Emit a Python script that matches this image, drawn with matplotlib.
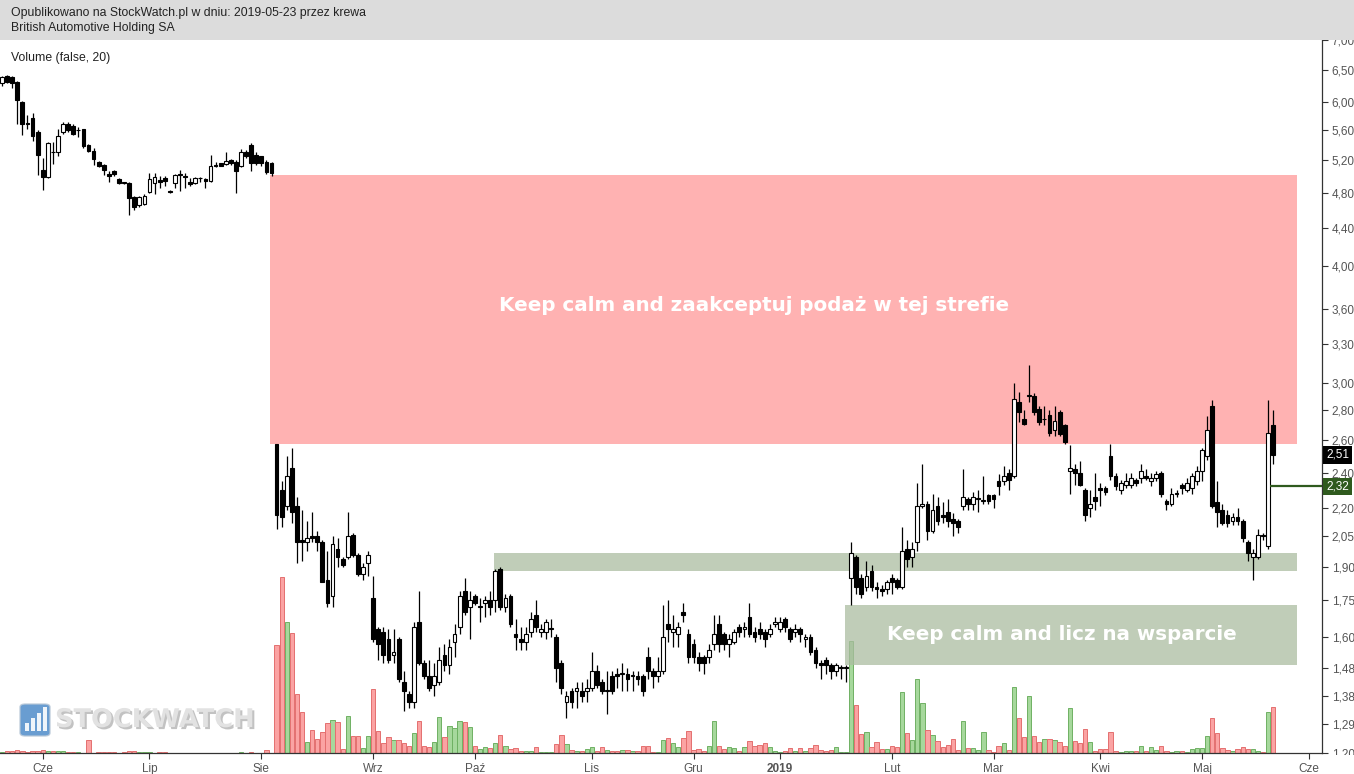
import numpy as np
import pandas as pd
import matplotlib
matplotlib.use("Agg")
import matplotlib.pyplot as plt
from matplotlib.patches import Rectangle, FancyBboxPatch
from matplotlib import transforms, font_manager
import matplotlib.patheffects as pe

# ---------------- data ----------------
start_date = "2018-05-21"
holidays = ["2018-05-31", "2018-08-15", "2018-11-01", "2018-11-12", "2018-12-24",
            "2018-12-25", "2018-12-26", "2018-12-31", "2019-01-01", "2019-04-19",
            "2019-04-22", "2019-05-01", "2019-05-03", "2019-06-20"]

opens = [6.29,6.40,6.38,6.31,6.00,5.70,5.77,5.58,5.07,4.99, 5.31,5.31,5.58,5.68,5.66,5.60,5.61,5.40,5.32,5.18,
         5.14,5.03,5.06,4.96,4.93,4.91,4.75,4.65,4.67,4.81, 4.91,4.95,4.98,4.82,4.92,5.03,5.00,4.93,4.91,4.97,
         4.96,4.94,5.14,5.16,5.15,5.20,5.18,5.13,5.31,5.40, 5.27,5.25,5.18,5.17,
         2.58,2.30,2.21,2.43,2.21,2.03,2.02,2.05,2.05,2.02, 1.84,1.77,1.99,1.94,1.95,2.06,1.96,1.87,1.92,1.76,
         1.63,1.62,1.59,1.53,1.59,1.43,1.39,1.36,1.66,1.50, 1.45,1.42,1.43,1.53,1.49,1.58,1.64,1.79,1.72,1.77,
         1.72,1.74,1.75,1.75,1.89,1.72,1.77,1.61,1.59,1.58, 1.62,1.69,1.62,1.62,1.63,1.60,1.50,1.36,1.40,1.40,
         1.40,1.40,1.41,1.47,1.43,1.40,1.45,1.46,1.46,1.46, 1.45,1.45,1.45,1.52,1.47,1.45,1.47,1.65,1.62,1.61,
         1.70,1.61,1.57,1.52,1.52,1.52,1.57,1.65,1.61,1.57, 1.58,1.64,1.63,1.68,1.62,1.63,1.62,1.61,1.65,1.63,
         1.67,1.63,1.62,1.63,1.59,1.60,1.55,1.50,1.51,1.49, 1.47,1.48,1.48,1.85,1.95,1.85,1.81,1.88,1.81,1.80,
         1.80,1.85,1.84,1.81,1.99,1.95,2.02,2.21,2.22,2.08, 2.21,2.16,2.18,2.14,2.13,2.21,2.25,2.22,2.25,2.24,
         2.27,2.27,2.35,2.35,2.40,2.38,2.86,2.74,2.90,2.90, 2.81,2.74,2.77,2.67,2.79,2.70,2.41,2.42,2.40,2.30,
         2.20,2.26,2.31,2.31,2.50,2.38,2.30,2.33,2.33,2.36, 2.37,2.38,2.35,2.37,2.40,2.24,2.22,2.28,2.33,2.30,
         2.31,2.35,2.41,2.50,2.83,2.23,2.19,2.16,2.13,2.15, 2.13,2.02,1.95,1.95,2.06,2.00,2.70]
highs = [6.40,6.42,6.40,6.33,6.02,5.82,5.85,5.60,5.23,5.44, 5.44,5.62,5.72,5.71,5.68,5.64,5.62,5.41,5.36,5.19,
         5.15,5.06,5.07,4.97,4.93,4.93,4.76,4.76,4.78,5.04, 5.04,5.00,5.00,4.83,5.03,5.08,5.04,4.98,4.99,4.99,
         4.97,5.27,5.18,5.17,5.30,5.22,5.20,5.35,5.33,5.42, 5.30,5.26,5.20,5.18,
         2.58,2.35,2.50,2.55,2.26,2.19,2.13,2.18,2.08,2.03, 1.98,2.05,2.04,1.95,2.18,2.07,1.97,1.92,1.98,1.86,
         1.64,1.64,1.63,1.63,1.60,1.47,1.40,1.66,1.79,1.51, 1.51,1.50,1.56,1.57,1.59,1.65,1.79,1.85,1.79,1.78,
         1.76,1.77,1.79,1.89,1.90,1.78,1.78,1.67,1.64,1.64, 1.70,1.75,1.65,1.67,1.67,1.61,1.51,1.40,1.41,1.43,
         1.43,1.44,1.54,1.49,1.44,1.47,1.47,1.48,1.50,1.48, 1.47,1.47,1.46,1.56,1.48,1.52,1.73,1.75,1.69,1.66,
         1.74,1.63,1.59,1.54,1.53,1.57,1.69,1.69,1.62,1.61, 1.63,1.65,1.66,1.74,1.64,1.66,1.63,1.65,1.68,1.68,
         1.68,1.64,1.65,1.64,1.61,1.61,1.56,1.51,1.52,1.50, 1.50,1.49,1.49,2.02,1.96,1.87,1.93,1.91,1.83,1.82,
         1.84,1.87,1.85,2.10,2.03,2.02,2.34,2.45,2.24,2.28, 2.26,2.23,2.25,2.17,2.14,2.42,2.26,2.29,2.30,2.38,
         2.28,2.28,2.39,2.44,2.42,3.00,2.93,2.80,3.13,2.92, 2.83,2.83,2.80,2.83,2.80,2.71,2.57,2.45,2.47,2.31,
         2.30,2.40,2.34,2.32,2.58,2.40,2.36,2.40,2.40,2.37, 2.45,2.42,2.40,2.41,2.41,2.25,2.31,2.30,2.34,2.37,
         2.40,2.44,2.55,2.76,2.87,2.35,2.22,2.19,2.17,2.20, 2.14,2.03,1.99,2.09,2.07,2.87,2.80]
lows = [6.25,6.30,6.22,5.68,5.53,5.62,5.45,5.01,4.83,4.97, 5.15,5.25,5.55,5.57,5.54,5.50,5.36,5.30,5.14,5.11,
        5.01,4.93,5.00,4.90,4.90,4.54,4.60,4.63,4.66,4.79, 4.78,4.85,4.88,4.80,4.85,4.82,4.85,4.88,4.90,4.93,
        4.85,4.93,5.11,5.12,5.14,5.14,4.80,5.11,5.23,5.06, 5.14,5.13,5.02,5.00,
        2.09,2.10,2.19,2.12,1.92,1.93,1.98,2.02,1.98,1.83, 1.72,1.72,1.90,1.90,1.94,1.95,1.86,1.84,1.86,1.58,
        1.51,1.50,1.50,1.50,1.43,1.33,1.34,1.34,1.49,1.44, 1.40,1.38,1.42,1.47,1.46,1.52,1.61,1.69,1.59,1.73,
        1.66,1.68,1.69,1.70,1.71,1.70,1.64,1.55,1.55,1.55, 1.60,1.62,1.60,1.59,1.60,1.43,1.39,1.31,1.34,1.34,
        1.36,1.36,1.40,1.41,1.39,1.32,1.39,1.41,1.40,1.40, 1.40,1.42,1.38,1.44,1.41,1.43,1.46,1.58,1.56,1.56,
        1.66,1.50,1.50,1.47,1.46,1.50,1.55,1.54,1.55,1.52, 1.57,1.60,1.60,1.60,1.58,1.59,1.56,1.60,1.64,1.62,
        1.62,1.58,1.60,1.58,1.56,1.53,1.48,1.44,1.46,1.44, 1.45,1.44,1.43,1.73,1.78,1.76,1.79,1.79,1.76,1.77,
        1.78,1.78,1.80,1.80,1.90,1.90,1.98,2.20,2.03,2.07, 2.11,2.12,2.10,2.05,2.07,2.19,2.19,2.19,2.18,2.22,
        2.22,2.20,2.27,2.33,2.30,2.37,2.72,2.70,2.86,2.77, 2.70,2.70,2.63,2.63,2.63,2.58,2.28,2.33,2.32,2.13,
        2.15,2.19,2.21,2.27,2.36,2.30,2.28,2.31,2.31,2.32, 2.34,2.36,2.32,2.35,2.26,2.19,2.21,2.26,2.28,2.29,
        2.28,2.33,2.35,2.48,2.20,2.10,2.11,2.10,2.11,2.11, 2.02,1.93,1.84,1.94,2.03,1.99,2.45]
closes = [6.38,6.31,6.30,6.03,5.68,5.68,5.52,5.27,4.99,5.42, 5.30,5.52,5.68,5.60,5.55,5.60,5.38,5.32,5.22,5.13,
          5.07,5.00,5.03,4.91,4.91,4.73,4.63,4.75,4.76,4.96, 4.99,4.93,4.94,4.81,5.01,5.01,4.99,4.90,4.98,4.97,
          4.94,5.13,5.13,5.13,5.19,5.16,5.06,5.31,5.25,5.16, 5.16,5.16,5.05,5.04,
          2.16,2.15,2.38,2.18,2.02,2.02,2.04,2.04,2.02,1.83, 1.74,2.01,1.95,1.91,2.05,1.96,1.87,1.90,1.96,1.59,
          1.57,1.53,1.51,1.54,1.44,1.40,1.36,1.64,1.50,1.45, 1.41,1.45,1.51,1.49,1.56,1.61,1.77,1.70,1.75,1.74,
          1.725,1.75,1.72,1.88,1.72,1.76,1.65,1.60,1.58,1.61, 1.67,1.64,1.63,1.66,1.63,1.48,1.41,1.38,1.36,1.41,
          1.38,1.41,1.47,1.42,1.40,1.40,1.40,1.45,1.46,1.44, 1.45,1.44,1.40,1.47,1.45,1.47,1.60,1.63,1.63,1.64,
          1.69,1.52,1.52,1.50,1.50,1.55,1.61,1.57,1.57,1.59, 1.62,1.62,1.64,1.61,1.60,1.61,1.59,1.63,1.66,1.66,
          1.64,1.59,1.63,1.61,1.60,1.54,1.50,1.49,1.49,1.47, 1.49,1.485,1.485,1.97,1.81,1.78,1.86,1.81,1.80,1.79,
          1.83,1.83,1.81,1.98,1.94,1.99,2.21,2.22,2.08,2.19, 2.13,2.15,2.13,2.12,2.10,2.26,2.22,2.26,2.25,2.245,
          2.24,2.25,2.32,2.38,2.36,2.88,2.79,2.71,2.91,2.79, 2.72,2.74,2.65,2.73,2.64,2.59,2.43,2.40,2.33,2.16,
          2.22,2.24,2.30,2.29,2.38,2.32,2.34,2.35,2.37,2.34, 2.41,2.37,2.37,2.39,2.28,2.22,2.28,2.285,2.31,2.34,
          2.38,2.41,2.54,2.67,2.21,2.18,2.12,2.12,2.15,2.13, 2.04,1.97,1.97,2.06,2.05,2.65,2.51]
volumes = [1.5,2,2.3,2.7,2.3,1.5,2,2.3,2.7,2.3, 1.7,1.7,2.5,0.7,0.7,0.7,0.5,13,0.5,1, 1,1,1,0.5,1,2.5,1.7,1.3,1.3,0.8,
           0.5,1,0.8,0.2,0.2,0.2,0.2,0.2,0.2,0.2, 0.2,0.2,0.2,0.2,0.2,0.2,0.2,1.0,0.3,1.0, 0.3,0.3,3,0.3,
           108,176,131,120,59,41,11,23,14,21, 30,33,31,4,37,17,17,5,17,64, 22,10,16,13,13,10,7,20,32,7,
           6,11,36,16,27,25,32,31,26,7, 4,6,5,10,18,7,4,5,2,2, 2,6,1,1,1,9,18,9,3,2,
           2,4,6,2,6,3,2,2,3,3, 2,2,
           7,7,1,1,13,15,10,6,15,22, 3,4,2,7,32,7,4,6,5,2, 6,12,7,8,10,6,2,1,2,5,
           2,5,2,5,8,3,2,3,6,1, 1,112,48,19,21,6,11,4,4,7, 6,61,20,13,74,50,23,18,12,6,
           8,14,3,32,5,5,3,21,3,1, 7,10,3,66,35,16,57,17,11,14, 14,13,11,7,45,12,10,24,11,2,
           4,4,21,2,1,2,2,2,7,2, 6,3,7,2,1,2,2,1,4,5, 5,17,35,20,5,3,2,4,6,4,
           4,2,1,41,46]

price_ticks = [7.00, 6.50, 6.00, 5.60, 5.20, 4.80, 4.40, 4.00, 3.60, 3.30, 3.00, 2.80, 2.60,
               2.40, 2.20, 2.05, 1.90, 1.75, 1.60, 1.48, 1.38, 1.29, 1.20]
month_names = {1: "Sty", 2: "Lut", 3: "Mar", 4: "Kwi", 5: "Maj", 6: "Cze",
               7: "Lip", 8: "Sie", 9: "Wrz", 10: "Paź", 11: "Lis", 12: "Gru"}
supply_zone = (2.58, 5.01)
support_zone_upper = (1.88, 1.97)
support_zone_lower = (1.49, 1.73)
supply_text = "Keep calm and zaakceptuj podaż w tej strefie"
support_text = "Keep calm and licz na wsparcie"
last_price = 2.51
marker_price = 2.32
header_line1 = "Opublikowano na StockWatch.pl w dniu: 2019-05-23 przez krewa"
header_line2 = "British Automotive Holding SA"
indicator_label = "Volume (false, 20)"
watermark = "STOCKWATCH"

# ---------------- layout / style ----------------
W, H, DPI = 1354, 774, 100
XLIM = (-0.4, 259.6)
PRICE_LIM = (1.20, 7.00)
ZONE_RIGHT = 254.7
SUPPLY_LEFT, SUPPORT_UP_LEFT, SUPPORT_LO_LEFT = 52.7, 96.8, 165.8
UP_BODY, DOWN_BODY = "white", "black"
VOL_UP_FC, VOL_UP_EC = "#a6d89c", "#6fb163"
VOL_DN_FC, VOL_DN_EC = "#fba3a3", "#e46f6f"
PINK = (1.0, 0.60, 0.60)
SAGE = (0.67, 0.74, 0.63)
LABEL_FONT = ["Liberation Sans", "DejaVu Sans"]

o = np.array(opens); c = np.array(closes)
h = np.maximum(np.array(highs), np.maximum(o, c))
l = np.minimum(np.array(lows), np.minimum(o, c))
v = np.array(volumes, dtype=float)
n = len(o)
x = np.arange(n)
up = c >= o

days = pd.bdate_range(start_date, "2019-06-30")
days = days[~days.isin(pd.to_datetime(holidays))]
mon = days.month.values
first_idx = [i for i in range(1, len(days)) if mon[i] != mon[i - 1]]
tick_labels = [str(days[i].year) if mon[i] == 1 else month_names[mon[i]] for i in first_idx]

fig = plt.figure(figsize=(W / DPI, H / DPI), dpi=DPI, facecolor="white")

def fig_rect(x0, y0, x1, y1):
    return [x0 / W, 1 - y1 / H, (x1 - x0) / W, (y1 - y0) / H]

ax = fig.add_axes(fig_rect(0, 40, 1322, 753))
axv = ax.twinx()
ax.set_zorder(axv.get_zorder() + 1)
ax.patch.set_visible(False)

# volume
axv.bar(x[up], v[up], width=0.85, color=VOL_UP_FC, edgecolor=VOL_UP_EC, linewidth=0.7)
axv.bar(x[~up], v[~up], width=0.85, color=VOL_DN_FC, edgecolor=VOL_DN_EC, linewidth=0.7)
axv.set_ylim(0, v.max() * 713 / 176)
axv.set_yticks([])
for s in axv.spines.values():
    s.set_visible(False)

# zones
ax.add_patch(Rectangle((SUPPLY_LEFT, supply_zone[0]), ZONE_RIGHT - SUPPLY_LEFT,
                       supply_zone[1] - supply_zone[0], facecolor=PINK, alpha=0.75,
                       edgecolor="none", zorder=1))
ax.add_patch(Rectangle((SUPPORT_UP_LEFT, support_zone_upper[0]), ZONE_RIGHT - SUPPORT_UP_LEFT,
                       support_zone_upper[1] - support_zone_upper[0], facecolor=SAGE, alpha=0.75,
                       edgecolor="none", zorder=1))
ax.add_patch(Rectangle((SUPPORT_LO_LEFT, support_zone_lower[0]), ZONE_RIGHT - SUPPORT_LO_LEFT,
                       support_zone_lower[1] - support_zone_lower[0], facecolor=SAGE, alpha=0.75,
                       edgecolor="none", zorder=1))

# candles
ax.vlines(x, l, h, color="black", linewidth=0.9, zorder=3)
body_lo = np.minimum(o, c)
body_h = np.abs(c - o)
body_h = np.where(body_h < 1e-9, 0.004, body_h)
ax.bar(x, body_h, bottom=body_lo, width=0.74,
       color=np.where(up, UP_BODY, DOWN_BODY), edgecolor="black", linewidth=0.8, zorder=4)

# zone texts
ax.text(148, 3.63, supply_text, color="white", fontsize=14.3, fontweight="bold",
        family=["DejaVu Sans"], ha="center", va="center", zorder=5)
ax.text(208.4, 1.61, support_text, color="white", fontsize=14.3, fontweight="bold",
        family=["DejaVu Sans"], ha="center", va="center", zorder=5)

# marker line and price labels
ax.hlines(marker_price, n - 1.6, XLIM[1], color="#2f5a1e", linewidth=1.6, zorder=5, clip_on=False)
blend = transforms.blended_transform_factory(ax.transAxes, ax.transData)
for val, bg in ((last_price, "black"), (marker_price, "#2f5a1e")):
    ax.annotate(f"{val:.2f}".replace(".", ","), xy=(1.0, val), xycoords=blend,
                xytext=(3, 0), textcoords="offset points", ha="left", va="center",
                color="white", fontsize=8.5, family=LABEL_FONT, annotation_clip=False,
                bbox=dict(boxstyle="square,pad=0.25", fc=bg, ec="none"), zorder=6)

# axes formatting
ax.set_yscale("log")
ax.set_ylim(*PRICE_LIM)
ax.set_xlim(*XLIM)
ax.yaxis.tick_right()
ax.set_yticks(price_ticks)
ax.yaxis.set_minor_locator(matplotlib.ticker.NullLocator())
ax.set_yticklabels([f"{t:.2f}".replace(".", ",") for t in price_ticks], family=LABEL_FONT)
ax.set_xticks(first_idx)
ax.set_xticklabels(tick_labels, family=LABEL_FONT)
for lab in ax.get_xticklabels():
    if lab.get_text().isdigit():
        lab.set_fontweight("bold")
        lab.set_color("#333333")
ax.tick_params(axis="y", which="major", direction="out", length=4, width=0.8,
               color="#333333", labelcolor="#555555", labelsize=8.5, pad=3)
ax.tick_params(axis="x", which="major", direction="out", length=4, width=0.8,
               color="#333333", labelcolor="#555555", labelsize=8.5, pad=3)
for side in ("left", "top"):
    ax.spines[side].set_visible(False)
for side in ("right", "bottom"):
    ax.spines[side].set_color("#333333")
    ax.spines[side].set_linewidth(0.9)

# header band and texts
fig.patches.append(Rectangle((0, 1 - 40 / H), 1, 40 / H, transform=fig.transFigure,
                             facecolor="#dcdcdc", edgecolor="none", zorder=10))
fig.patches.append(Rectangle((1323 / W, 0), 1, (H - 755) / H, transform=fig.transFigure,
                             facecolor="white", edgecolor="none", zorder=10))
fig.text(11 / W, 1 - 13 / H, header_line1, fontsize=8.8, color="#222222", family=LABEL_FONT,
         va="center", ha="left", zorder=11)
fig.text(11 / W, 1 - 28 / H, header_line2, fontsize=8.8, color="#222222", family=LABEL_FONT,
         va="center", ha="left", zorder=11)
fig.text(11 / W, 1 - 58 / H, indicator_label, fontsize=8.8, color="#222222", family=LABEL_FONT,
         va="center", ha="left", zorder=11)

# watermark
fig.patches.append(FancyBboxPatch((20 / W, 1 - 736 / H), 30 / W, 32 / H,
                                  boxstyle="round,pad=0.0,rounding_size=0.004",
                                  transform=fig.transFigure, facecolor="#4f8cc9",
                                  edgecolor="#b8c8d8", linewidth=1.0, alpha=0.85, zorder=8))
for k, hh in enumerate([8, 13, 18, 24]):
    fig.patches.append(Rectangle(((25 + 6 * k) / W, 1 - 731 / H), 3.5 / W, hh / H,
                                 transform=fig.transFigure, facecolor="white",
                                 edgecolor="none", alpha=0.9, zorder=9))
names = {f.name for f in font_manager.fontManager.ttflist}
if "Liberation Sans Narrow" in names:
    wm_family, wm_size = ["Liberation Sans Narrow"], 29
else:
    wm_family, wm_size = ["DejaVu Sans"], 18.5
fig.text(55 / W, 1 - 720 / H, watermark, fontsize=wm_size, fontweight="bold", family=wm_family,
         color="#e2e2e2", va="center", ha="left", zorder=9,
         path_effects=[pe.withSimplePatchShadow(offset=(1.5, -1.5), shadow_rgbFace="#9a9a9a",
                                                alpha=0.6)])

fig.savefig("out.png", dpi=DPI, facecolor="white")
